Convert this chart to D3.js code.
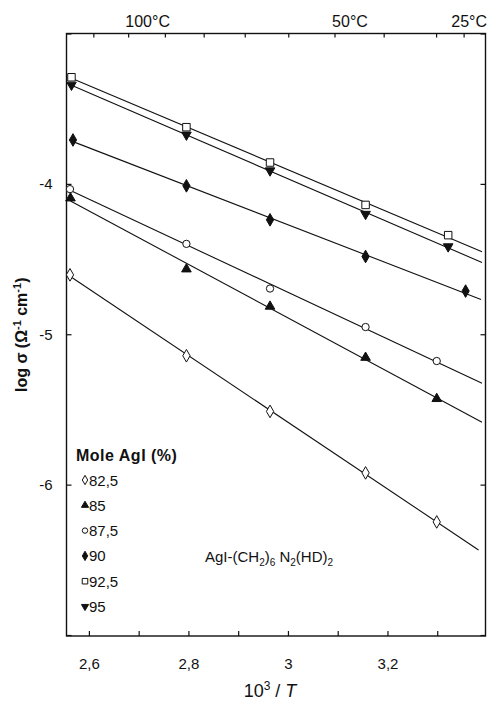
<!DOCTYPE html>
<html>
<head>
<meta charset="utf-8">
<script src="https://cdn.jsdelivr.net/npm/d3@7"></script>
<style>
  html, body { margin: 0; padding: 0; background: #fff; }
  svg { display: block; }
  text { font-family: "Liberation Sans", Arial, sans-serif; fill: #111; }
</style>
</head>
<body>
<svg id="chart" width="490" height="701"></svg>
<script>
// ---------------- data ----------------
const xTicks = [2.6, 2.7, 2.8, 2.9, 3.0, 3.1, 3.2, 3.3];
const xTickLabels = ["2,6", "", "2,8", "", "3", "", "3,2", ""];
const tempTicks = [110, 100, 90, 80, 70, 60, 50, 40, 30, 25];   // °C
const tempLabels = [100, 50, 25];                                // °C
const yTicks = [-3, -4, -5, -6, -7];
const yTickLabels = ["", "-4", "-5", "-6", ""];

const seriesNames = ["82,5", "85", "87,5", "90", "92,5", "95"];
const x82_5 = [2.562, 2.796, 2.964, 3.156, 3.299];
const y82_5 = [-4.605, -5.143, -5.513, -5.922, -6.248];
const x85   = [2.563, 2.796, 2.964, 3.156, 3.299];
const y85   = [-4.095, -4.567, -4.815, -5.155, -5.429];
const x87_5 = [2.562, 2.796, 2.964, 3.156, 3.299];
const y87_5 = [-4.035, -4.399, -4.696, -4.952, -5.178];
const x90   = [2.568, 2.796, 2.964, 3.156, 3.357];
const y90   = [-3.708, -4.013, -4.239, -4.483, -4.713];
const x92_5 = [2.565, 2.796, 2.964, 3.156, 3.322];
const y92_5 = [-3.291, -3.623, -3.858, -4.140, -4.341];
const x95   = [2.565, 2.796, 2.964, 3.156, 3.322];
const y95   = [-3.342, -3.674, -3.912, -4.201, -4.417];
const lineEnd = [3.383, 3.390, 3.390, 3.388, 3.390, 3.390];   // where each fitted line stops (10^3/T)

const seriesX = [x82_5, x85, x87_5, x90, x92_5, x95];
const seriesY = [y82_5, y85, y87_5, y90, y92_5, y95];
// marker style per series: open diamond, filled triangle, open circle, filled diamond, open square, filled down-triangle
const markerType = ["diamond", "triangle", "circle", "diamond", "square", "triangleDown"];
const markerFilled = [false, true, false, true, false, true];

// ---------------- layout ----------------
const svg = d3.select("#chart");
const L = 66.5, R = 485.5, T = 33.5, B = 636;
const x = d3.scaleLinear().domain([2.555, 3.397]).range([L, R]);
const y = d3.scaleLinear().domain([-7, -3]).range([635, 33.5]);

const sym = {
  diamond: d3.symbolDiamond,
  triangle: d3.symbolTriangle,
  triangleDown: d3.symbolTriangle,
  circle: d3.symbolCircle,
  square: d3.symbolSquare
};
const symSize = { diamond: 46, triangle: 40, triangleDown: 40, circle: 42, square: 56 };

function drawMarker(g, type, filled, cx, cy, scale) {
  const s = symSize[type] * (scale || 1);
  g.append("path")
    .attr("d", d3.symbol().type(sym[type]).size(s)())
    .attr("transform", `translate(${cx},${cy})` + (type === "triangleDown" ? " rotate(180)" : ""))
    .attr("fill", filled ? "#111" : "#fff")
    .attr("stroke", "#111")
    .attr("stroke-width", 1);
}

// ---------------- frame & axes ----------------
const frame = svg.append("g");
frame.append("rect")
  .attr("x", L).attr("y", T).attr("width", R - L).attr("height", B - T)
  .attr("fill", "none").attr("stroke", "#111").attr("stroke-width", 1.4);

// bottom axis (ticks inward)
const xAxis = d3.axisBottom(x).tickValues(xTicks).tickSize(-5).tickPadding(22)
  .tickFormat((d, i) => xTickLabels[i]);
const gx = svg.append("g").attr("transform", `translate(0,${B})`).call(xAxis);
gx.select(".domain").remove();
gx.selectAll("line").attr("stroke", "#111").attr("stroke-width", 1.2);
gx.selectAll("text").attr("font-size", 15).attr("font-family", "Liberation Sans, Arial, sans-serif").attr("fill", "#111");

// top axis: temperature in °C on 10^3/T scale
const tempToX = t => 1000 / (t + 273.15);
const gt = svg.append("g");
gt.selectAll("line").data(tempTicks).join("line")
  .attr("x1", d => x(tempToX(d))).attr("x2", d => x(tempToX(d)))
  .attr("y1", T).attr("y2", T + 4)
  .attr("stroke", "#111").attr("stroke-width", 1.2);
gt.selectAll("text").data(tempLabels).join("text")
  .attr("x", d => x(tempToX(d)) + (d === 25 ? 5 : (d === 50 ? 15 : 19)))
  .attr("y", 27)
  .attr("text-anchor", "middle")
  .attr("font-size", 16)
  .text(d => d + "°C");

// left axis
const yAxis = d3.axisLeft(y).tickValues(yTicks).tickSize(-5).tickPadding(14)
  .tickFormat((d, i) => yTickLabels[i]);
const gy = svg.append("g").attr("transform", `translate(${L},0)`).call(yAxis);
gy.select(".domain").remove();
gy.selectAll("line").attr("stroke", "#111").attr("stroke-width", 1.2);
gy.selectAll("text").attr("font-size", 15).attr("font-family", "Liberation Sans, Arial, sans-serif").attr("fill", "#111");

// right axis ticks (inward)
const yAxisR = d3.axisRight(y).tickValues(yTicks).tickSize(-5).tickFormat("");
const gyr = svg.append("g").attr("transform", `translate(${R},0)`).call(yAxisR);
gyr.select(".domain").remove();
gyr.selectAll("line").attr("stroke", "#111").attr("stroke-width", 1.2);

// axis titles
const yt = svg.append("text")
  .attr("transform", `translate(27,${(T + B) / 2}) rotate(-90)`)
  .attr("text-anchor", "middle")
  .attr("font-size", 16).attr("font-weight", "bold");
yt.append("tspan").text("log σ  (Ω");
yt.append("tspan").attr("dy", -6).attr("font-size", 11).text("-1");
yt.append("tspan").attr("dy", 6).text(" cm");
yt.append("tspan").attr("dy", -6).attr("font-size", 11).text("-1");
yt.append("tspan").attr("dy", 6).text(")");

const xt = svg.append("text")
  .attr("x", 270).attr("y", 697)
  .attr("text-anchor", "middle")
  .attr("font-size", 18);
xt.append("tspan").text("10");
xt.append("tspan").attr("dy", -7).attr("font-size", 12).text("3");
xt.append("tspan").attr("dy", 7).text(" / ");
xt.append("tspan").attr("font-style", "italic").text("T");

// ---------------- fitted lines & markers ----------------
const plot = svg.append("g");
seriesX.forEach((xs, i) => {
  const ys = seriesY[i];
  const mx = d3.mean(xs), my = d3.mean(ys);
  const sxy = d3.sum(xs, (v, k) => (v - mx) * (ys[k] - my));
  const sxx = d3.sum(xs, v => (v - mx) * (v - mx));
  const slope = sxy / sxx, icpt = my - slope * mx;
  const x0 = xs[0], x1 = lineEnd[i];
  plot.append("path")
    .datum([[x0, icpt + slope * x0], [x1, icpt + slope * x1]])
    .attr("d", d3.line().x(d => x(d[0])).y(d => y(d[1])))
    .attr("fill", "none").attr("stroke", "#111").attr("stroke-width", 1.1);
});
seriesX.forEach((xs, i) => {
  xs.forEach((xv, k) => drawMarker(plot, markerType[i], markerFilled[i], x(xv), y(seriesY[i][k])));
});

// ---------------- legend ----------------
const leg = svg.append("g");
leg.append("text").attr("x", 76).attr("y", 461)
  .attr("font-size", 16).attr("font-weight", "bold").attr("letter-spacing", 0.5)
  .text("Mole AgI (%)");
seriesNames.forEach((name, i) => {
  const cy = 480 + i * 25.3;
  drawMarker(leg, markerType[i], markerFilled[i], 85, cy, 0.55);
  leg.append("text").attr("x", 89).attr("y", cy + 5.5).attr("font-size", 15).text(name);
});

// annotation
const ann = svg.append("text").attr("x", 205).attr("y", 562).attr("font-size", 15);
ann.append("tspan").text("AgI-(CH");
ann.append("tspan").attr("dy", 4).attr("font-size", 10).text("2");
ann.append("tspan").attr("dy", -4).text(")");
ann.append("tspan").attr("dy", 4).attr("font-size", 10).text("6");
ann.append("tspan").attr("dy", -4).text(" N");
ann.append("tspan").attr("dy", 4).attr("font-size", 10).text("2");
ann.append("tspan").attr("dy", -4).text("(HD)");
ann.append("tspan").attr("dy", 4).attr("font-size", 10).text("2");
</script>
</body>
</html>
